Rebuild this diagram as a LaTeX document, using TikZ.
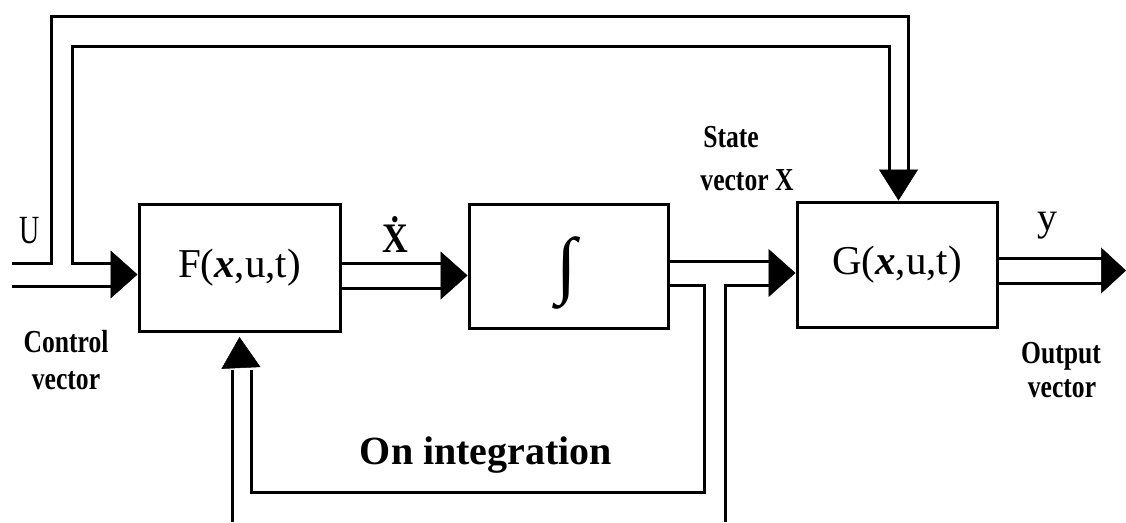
\documentclass[tikz,border=0pt]{standalone}
\usepackage{graphicx}
\usepackage{fontspec}
\setmainfont{Liberation Serif}
\usetikzlibrary{arrows.meta}
\begin{document}
\begin{tikzpicture}[x=1pt,y=-1pt,
  wire/.style={line width=3pt, line cap=butt, line join=miter},
  blk/.style={draw, line width=3pt, inner sep=0pt, font=\fontsize{41}{43}\selectfont},
  htip/.style={draw=white, line width=0.5pt, -{Triangle[length=27pt,width=48pt,color=black,fill=black]}},
  otip/.style={draw=white, line width=0.5pt, -{Triangle[length=25pt,width=46pt,color=black,fill=black]}},
  vtip/.style={draw=white, line width=0.5pt, -{Triangle[length=31pt,width=39pt,color=black,fill=black]}},
  lab/.style={inner sep=0pt, anchor=base},
  cond/.style={inner sep=0pt, anchor=base, font=\bfseries\fontsize{32}{32}\selectfont}
]
\useasboundingbox (0,0) rectangle (1126,522);

% blocks
\node[blk, minimum width=201pt, minimum height=127pt] (F) at (239.5,267.5) {F(\textbf{\textit{x}},u,t)};
\node[blk, minimum width=199pt, minimum height=124pt] (I) at (568.5,266) {};
\node[inner sep=0pt, font=\fontsize{74}{74}\selectfont] (int) at (567,273) {∫};
\node[blk, minimum width=200pt, minimum height=125pt] (G) at (897,264.5) {G(\textbf{\textit{x}},u,t)};

% named coordinates
\coordinate (uA) at (12,263);
\coordinate (uB) at (12,286);
\coordinate (fbA) at (232,522);
\coordinate (fbB) at (725,522);
\coordinate (outEnd) at (1126,270.5);

% control input bus and its branch to G
\draw[wire] (uA) -- (51,263) -- (51,16) -- (908,16) -- (908,170);
\draw[wire] (889,170) -- (889,46) -- (72,46) -- (72,263) -- (113,263);
\draw[wire] (uB) -- (113,286);
\draw[htip] (100,274.5) -- (F.west |- {0,274.5});

% F -> integrator
\draw[wire] (F.east |- {0,263}) -- (446,263);
\draw[wire] (F.east |- {0,288}) -- (446,288);
\draw[htip] (430,275.5) -- (I.west |- {0,275.5});

% integrator -> G and feedback
\draw[wire] (I.east |- {0,261}) -- (772,261);
\draw[wire] (I.east |- {0,285}) -- (704,285) -- (704,492) -- (251,492) -- (251,370);
\draw[wire] (fbA) -- (232,370);
\draw[vtip] (241.5,380) -- (F.south |- {0,337});
\draw[wire] (fbB) -- (725,285) -- (772,285);
\draw[htip] (760,273) -- (G.west |- {0,273});

% top arrow into G
\draw[vtip] (898.5,160) -- (G.north -| {898.5,0});

% output
\draw[wire] (G.east |- {0,258}) -- (1104,258);
\draw[wire] (G.east |- {0,283}) -- (1104,283);
\draw[otip] (1090,270.5) -- (outEnd);

% labels
\node[lab, font=\fontsize{40}{40}\selectfont] (Ulab) at (30,243) {\scalebox{0.7}[1]{U}};
\node[lab, font=\bfseries\fontsize{42}{42}\selectfont] (xdot) at (395,252) {\scalebox{0.85}[1]{\.{X}}};
\node[cond] (ctrl1) at (66,352) {\scalebox{0.8}[1]{Control}};
\node[cond] (ctrl2) at (66,389) {\scalebox{0.8}[1]{vector}};
\node[cond] (st1) at (731,147) {\scalebox{0.8}[1]{State}};
\node[cond] (st2) at (747,190) {\scalebox{0.8}[1]{vector X}};
\node[cond] (out1) at (1061,363) {\scalebox{0.8}[1]{Output}};
\node[cond] (out2) at (1062,397) {\scalebox{0.8}[1]{vector}};
\node[lab, font=\fontsize{40}{40}\selectfont] (ylab) at (1047,230) {y};
\node[lab, font=\bfseries\fontsize{40}{40}\selectfont] (onint) at (486,464) {On integration};
\end{tikzpicture}
\end{document}
